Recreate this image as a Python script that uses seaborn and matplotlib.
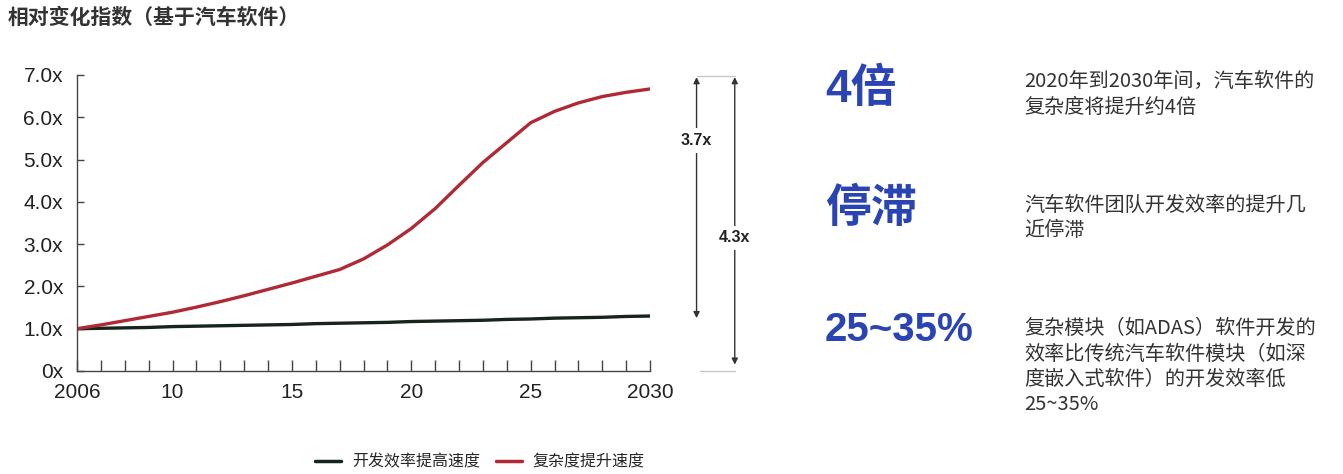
import matplotlib
matplotlib.use("Agg")
import matplotlib.pyplot as plt
import seaborn as sns
import pandas as pd

# Relative change index, automotive software, 2006-2030
years = list(range(2006, 2031))
efficiency = [1.00, 1.01, 1.02, 1.03, 1.05, 1.06, 1.07, 1.08, 1.09, 1.10, 1.12, 1.13,
              1.14, 1.15, 1.17, 1.18, 1.19, 1.20, 1.22, 1.23, 1.25, 1.26, 1.27, 1.29, 1.30]
complexity = [1.00, 1.09, 1.19, 1.29, 1.39, 1.51, 1.64, 1.78, 1.93, 2.08, 2.24, 2.40,
              2.65, 2.98, 3.37, 3.84, 4.39, 4.93, 5.40, 5.87, 6.14, 6.34, 6.49, 6.59, 6.67]
series_names = ["开发效率提高速度", "复杂度提升速度"]
series_colors = ["#17241c", "#b02a35"]

xtick_pos = [2006, 2010, 2015, 2020, 2025, 2030]
xtick_labels = ["2006", "10", "15", "20", "25", "2030"]
ytick_pos = [0, 1, 2, 3, 4, 5, 6, 7]
ytick_labels = ["0x", "1.0x", "2.0x", "3.0x", "4.0x", "5.0x", "6.0x", "7.0x"]

gap_labels = ["3.7x", "4.3x"]
big_labels = ["4倍", "停滞", "25~35%"]
notes = [
    "2020年到2030年间，汽车软件的\n复杂度将提升约4倍",
    "汽车软件团队开发效率的提升几\n近停滞",
    "复杂模块（如ADAS）软件开发的\n效率比传统汽车软件模块（如深\n度嵌入式软件）的开发效率低\n25~35%",
]

df = pd.DataFrame({
    "year": years * 2,
    "value": efficiency + complexity,
    "series": [series_names[0]] * len(years) + [series_names[1]] * len(years),
})

sns.set_theme(style="white")
plt.rcParams["font.family"] = ["Liberation Sans", "Noto Sans CJK SC", "DejaVu Sans"]

W, H = 1343, 474
fig = plt.figure(figsize=(W / 100, H / 100), dpi=100)
fig.patch.set_facecolor("white")

def px(x, y):
    return x / W, 1 - y / H

ax = fig.add_axes([77 / W, 1 - 371 / H, (650 - 77) / W, (371 - 75) / H])
ax.set_facecolor("white")

sns.lineplot(data=df, x="year", y="value", hue="series", hue_order=series_names,
             palette=series_colors, linewidth=2.4, ax=ax, legend=False)

ax.set_xlim(2006, 2030)
ax.set_ylim(0, 7)
ax.set_xlabel("")
ax.set_ylabel("")
for s in ["top", "right"]:
    ax.spines[s].set_visible(False)
for s in ["left", "bottom"]:
    ax.spines[s].set_color("#444444")
    ax.spines[s].set_linewidth(1.0)

ax.set_xticks(years, minor=True)
ax.set_xticks(xtick_pos)
ax.set_xticklabels(xtick_labels)
ax.set_yticks(ytick_pos)
ax.set_yticklabels(ytick_labels)
ax.tick_params(axis="x", which="both", direction="in", length=8, width=1,
               color="#444444", bottom=True, labelsize=15, pad=9, labelcolor="#222222")
ax.tick_params(axis="y", which="major", direction="in", length=5, width=1,
               color="#444444", left=True, labelsize=15, pad=10, labelcolor="#222222")

# Gap arrows to the right of the plot
arrow_kw = dict(arrowstyle="<|-|>", color="#333333", lw=1.0,
                mutation_scale=9, shrinkA=0, shrinkB=0)
ax.annotate("", xy=(2031.95, 6.95), xytext=(2031.95, 1.25),
            arrowprops=arrow_kw, annotation_clip=False)
ax.annotate("", xy=(2033.55, 6.95), xytext=(2033.55, 0.15),
            arrowprops=arrow_kw, annotation_clip=False)
ax.plot([2031.95, 2033.55], [6.98, 6.98], color="#c8c8c8", lw=1, clip_on=False)
ax.plot([2032.1, 2033.55], [0.0, 0.0], color="#c8c8c8", lw=1, clip_on=False)
ax.text(2031.95, 5.45, gap_labels[0], ha="center", va="center", fontsize=11.5,
        fontweight="bold", color="#222222",
        bbox=dict(boxstyle="square,pad=0.3", fc="white", ec="none"), clip_on=False)
ax.text(2033.55, 3.15, gap_labels[1], ha="center", va="center", fontsize=11.5,
        fontweight="bold", color="#222222",
        bbox=dict(boxstyle="square,pad=0.3", fc="white", ec="none"), clip_on=False)

# Title
fig.text(*px(8, 17), "相对变化指数（基于汽车软件）", ha="left", va="center",
         fontsize=15, fontweight="bold", color="#333333",
         family=["Noto Sans CJK SC", "DejaVu Sans"])

# Key figures and notes
blue = "#2a44b4"
big_y = [90, 210, 330]
big_sizes = [33, 33, 29]
note_y = [71, 195, 318]
for lab, yb, fs in zip(big_labels, big_y, big_sizes):
    fig.text(*px(825, yb), lab, ha="left", va="center", fontsize=fs,
             fontweight="bold", color=blue,
             family=["Liberation Sans", "Noto Sans CJK SC"])
for note, yn in zip(notes, note_y):
    fig.text(*px(1024, yn), note, ha="left", va="top", fontsize=14.5,
             color="#333333", linespacing=1.28,
             family=["Noto Sans CJK SC", "DejaVu Sans"])

# Legend
handles = [plt.Line2D([], [], color=c, lw=2.5) for c in series_colors]
fig.legend(handles, series_names, loc="center", bbox_to_anchor=px(480, 462),
           ncol=2, frameon=False, handlelength=1.6,
           columnspacing=1.0, handletextpad=0.7,
           prop={"family": ["Noto Sans CJK SC", "DejaVu Sans"], "size": 11.5})

fig.savefig("out.png", dpi=100, facecolor="white")
